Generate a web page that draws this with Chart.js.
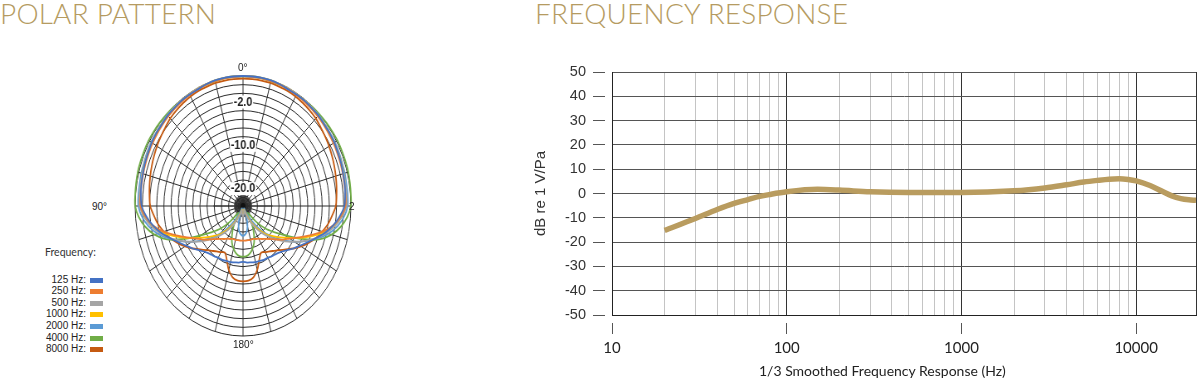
<!DOCTYPE html>
<html><head><meta charset="utf-8">
<script src="https://cdn.jsdelivr.net/npm/chart.js@4.4.0/dist/chart.umd.min.js"></script>
<style>
html,body{margin:0;padding:0;overflow:hidden;background:#fff;width:1200px;height:382px;position:relative;}
.title{position:absolute;font-family:Lato,"Open Sans",sans-serif;font-weight:300;font-size:28px;line-height:1.2;color:#b59b61;white-space:nowrap;letter-spacing:0.2px;}
.plab{position:absolute;font-family:"Liberation Sans",Arial,sans-serif;font-size:10px;color:#222;white-space:nowrap;line-height:12px;}
.lrow{position:absolute;white-space:nowrap;line-height:12px;font-family:"Liberation Sans",Arial,sans-serif;font-size:10px;color:#222;}
.sw{position:absolute;width:13px;height:5px;}
#xtitle{position:absolute;left:759px;top:362px;font-family:Lato,sans-serif;font-size:14px;color:#222;white-space:nowrap;line-height:17px;}
</style></head><body>
<div class="title" style="left:0px;top:-3.5px">POLAR PATTERN</div>
<div class="title" style="left:535px;top:-3.5px">FREQUENCY RESPONSE</div>

<div id="polarWrap" style="position:absolute;left:107px;top:70px;width:273px;height:273px;transform:scaleX(0.83);transform-origin:136px 136px;">
  <canvas id="polar" width="273" height="273"></canvas>
</div>
<div class="plab" style="left:238px;top:62px">0°</div>
<div class="plab" style="left:233px;top:339px">180°</div>
<div class="plab" style="left:92px;top:201px">90°</div>
<div class="plab" style="left:349px;top:201px">2</div>
<div id="legend"></div>

<canvas id="freq" width="720" height="342" style="position:absolute;left:520px;top:40px;"></canvas>
<div id="xtitle">1/3 Smoothed Frequency Response (Hz)</div>

<script>
// ---------- POLAR DATA ----------
const polarAngles = [0,5,10,15,20,25,30,35,40,45,50,55,60,65,70,75,80,85,90,95,100,105,110,115,120,125,130,135,140,145,150,155,160,165,170,175,180,185,190,195,200,205,210,215,220,225,230,235,240,245,250,255,260,265,270,275,280,285,290,295,300,305,310,315,320,325,330,335,340,345,350,355];
const hz125 = [30,30,30,30,29.9,29.7,29.7,29.7,29.6,29.6,29.4,29.4,29.3,29.1,29,28.8,28.7,28.5,28.2,27,25.5,23.7,21.6,19.8,18.3,17.1,15.9,15,14.4,14.1,13.8,13.7,13.5,13.4,13.2,13.1,12.9,13.1,13.2,13.4,13.5,13.7,13.8,14.1,14.4,15,15.9,17.1,18.3,19.8,21.6,23.7,25.5,27,28.2,28.5,28.7,28.8,29,29.1,29.3,29.4,29.4,29.6,29.6,29.7,29.7,29.7,29.9,30,30,30];
const hz250 = [29.9,29.9,29.9,29.8,29.8,29.7,29.6,29.5,29.4,29.3,29.2,29.1,29,28.9,28.8,28.7,28.6,28.6,28.5,27.3,25.5,22.8,19.8,17.1,15,13.5,12,10.8,9.9,9.3,8.7,8.4,8.1,8.1,8,8,8,8,8,8.1,8.1,8.4,8.7,9.3,9.9,10.8,12,13.5,15,17.1,19.8,22.8,25.5,27.3,28.5,28.6,28.6,28.7,28.8,28.9,29,29.1,29.2,29.3,29.4,29.5,29.6,29.7,29.8,29.8,29.9,29.9];
const hz500 = [30,30,30,30,29.9,29.9,29.8,29.8,29.7,29.6,29.5,29.4,29.3,29.2,29.1,29,28.9,28.9,28.8,27.6,26.1,24,21.6,19,16.5,14.2,12,10,8.1,6.3,4.5,2.8,1.5,0.9,1.5,2.1,2.4,2.1,1.5,0.9,1.5,2.8,4.5,6.3,8.1,10,12,14.2,16.5,19,21.6,24,26.1,27.6,28.8,28.9,28.9,29,29.1,29.2,29.3,29.4,29.5,29.6,29.7,29.8,29.8,29.9,29.9,30,30,30];
const hz1000 = [30,30,30,30,29.9,29.9,29.8,29.8,29.7,29.6,29.5,29.4,29.3,29.2,29.1,29,28.8,28.7,28.5,27.6,25.8,23.4,20.4,17.4,14.7,12.6,10.8,9.3,7.5,5.7,3.9,2.1,0.9,0.9,1.5,1.8,1.8,1.8,1.5,0.9,0.9,2.1,3.9,5.7,7.5,9.3,10.8,12.6,14.7,17.4,20.4,23.4,25.8,27.6,28.5,28.7,28.8,29,29.1,29.2,29.3,29.4,29.5,29.6,29.7,29.8,29.8,29.9,29.9,30,30,30];
const hz2000 = [30,30,30,30,29.9,29.9,29.8,29.8,29.7,29.7,29.6,29.5,29.5,29.4,29.3,29.3,29.2,29.2,29.1,28.2,26.7,24.6,21.9,19.2,16.5,13.8,11.4,9,6.6,4.2,2.1,0.6,3,4.8,6,6.6,6.9,6.6,6,4.8,3,0.6,2.1,4.2,6.6,9,11.4,13.8,16.5,19.2,21.9,24.6,26.7,28.2,29.1,29.2,29.2,29.3,29.3,29.4,29.5,29.5,29.6,29.7,29.7,29.8,29.8,29.9,29.9,30,30,30];
const hz4000 = [29.9,29.9,29.9,29.8,29.8,29.8,29.8,29.8,29.9,30,30.1,30.2,30.3,30.3,30.3,30.3,30.2,30.1,30,29.1,27.6,25.5,22.5,18,13.5,10.5,8.1,5.1,2.1,2.1,5.1,7.2,9,10.2,11.1,11.6,11.7,11.6,11.1,10.2,9,7.2,5.1,2.1,2.1,5.1,8.1,10.5,13.5,18,22.5,25.5,27.6,29.1,30,30.1,30.2,30.3,30.3,30.3,30.3,30.2,30.1,30,29.9,29.8,29.8,29.8,29.8,29.8,29.9,29.9];
const hz8000 = [29.4,29.4,29.4,29.4,29.3,29.3,29.2,29,28.8,28.6,28.2,27.9,27.6,27.3,27,26.7,26.4,26.1,25.8,24.9,24,22.8,21.6,20.1,18.6,17.1,15.6,14.4,13.5,12.8,12.3,11.9,13.2,15.3,16.7,17.3,17.4,17.3,16.7,15.3,13.2,11.9,12.3,12.8,13.5,14.4,15.6,17.1,18.6,20.1,21.6,22.8,24,24.9,25.8,26.1,26.4,26.7,27,27.3,27.6,27.9,28.2,28.6,28.8,29,29.2,29.3,29.3,29.4,29.4,29.4];
const seriesNames = ['125 Hz:','250 Hz:','500 Hz:','1000 Hz:','2000 Hz:','4000 Hz:','8000 Hz:'];
const seriesColors = ['#4472c4','#ed7d31','#a5a5a5','#ffc000','#5b9bd5','#70ad47','#c55a11'];
const seriesData = [hz125, hz250, hz500, hz1000, hz2000, hz4000, hz8000];
const ringValues = [0,2,4,6,8,10,12,14,16,18,20,22,24,26,28,30];
const ringLabels = {24:'-2.0', 14:'-10.0', 4:'-20.0'};

// ---------- FREQUENCY RESPONSE DATA ----------
const freqHz = [20,30,40,50,60,70,80,100,150,200,300,500,1000,2000,3000,4000,5000,6000,7000,8000,9000,10000,12000,14000,16000,18000,20000,22000];
const respDb = [-15.2,-10.3,-6.6,-4.1,-2.5,-1.2,-0.4,0.7,1.7,1.4,0.7,0.4,0.4,1.1,2.3,3.6,4.7,5.4,5.9,6.1,5.8,5.2,3.3,1.0,-1.0,-2.1,-2.6,-2.8];
const xGridHz = [10,20,30,40,50,60,70,80,90,100,200,300,400,500,600,700,800,900,1000,2000,3000,4000,5000,6000,7000,8000,9000,10000,22000];
const xLabelHz = [10,100,1000,10000];
const yTicksDb = [-50,-40,-30,-20,-10,0,10,20,30,40,50];

// ---------- LEGEND ----------
const legend = document.getElementById('legend');
const head = document.createElement('div');
head.className = 'lrow';
head.style.cssText = 'left:45px;top:246px;font-family:Lato,sans-serif;font-size:10.5px;color:#333;';
head.textContent = 'Frequency:';
legend.appendChild(head);
seriesNames.forEach((n, i) => {
  const t = document.createElement('div');
  t.className = 'lrow';
  t.style.left = '0px';
  t.style.width = '86px';
  t.style.top = (273.5 + i * 11.6) + 'px';
  t.style.textAlign = 'right';
  t.textContent = n;
  legend.appendChild(t);
  const s = document.createElement('div');
  s.className = 'sw';
  s.style.left = '89.5px';
  s.style.top = (277.5 + i * 11.6) + 'px';
  s.style.background = seriesColors[i];
  legend.appendChild(s);
});

// ---------- POLAR CHART ----------
const polarExtras = {
  id: 'polarExtras',
  beforeDatasetsDraw(chart) {
    const s = chart.scales.r, ctx = chart.ctx;
    ctx.save();
    ctx.strokeStyle = '#2a2a2a';
    ctx.lineWidth = 1;
    for (let i = 0; i < polarAngles.length; i++) {
      if (i % 3 === 0) continue;
      const p = s.getPointPosition(i, 11);
      ctx.beginPath(); ctx.moveTo(s.xCenter, s.yCenter); ctx.lineTo(p.x, p.y); ctx.stroke();
    }
    [18, 54].forEach(i => {
      const p = s.getPointPosition(i, 35.5);
      ctx.beginPath(); ctx.moveTo(s.xCenter, s.yCenter); ctx.lineTo(p.x, p.y); ctx.stroke();
    });
    ctx.fillStyle = '#111';
    ctx.beginPath(); ctx.arc(s.xCenter, s.yCenter, 3, 0, Math.PI * 2); ctx.fill();
    ctx.restore();
  }
};

new Chart(document.getElementById('polar'), {
  type: 'radar',
  data: {
    labels: polarAngles,
    datasets: seriesData.map((d, i) => ({
      label: seriesNames[i],
      data: d,
      borderColor: seriesColors[i],
      borderWidth: 1.8,
      pointRadius: 0,
      fill: false,
      tension: 0.3
    }))
  },
  options: {
    responsive: false,
    animation: false,
    plugins: { legend: { display: false }, tooltip: { enabled: false } },
    layout: { padding: 0 },
    scales: {
      r: {
        min: 0, max: 30,
        afterBuildTicks: s => { s.ticks = ringValues.map(v => ({ value: v })); },
        ticks: {
          stepSize: 2,
          autoSkip: false,
          maxTicksLimit: 40,
          callback: v => ringLabels[v] || '',
          font: { family: 'Liberation Sans', size: 13, weight: 'bold' },
          color: '#222',
          showLabelBackdrop: ctx => !!ringLabels[ctx.tick.value],
          backdropColor: '#fff',
          backdropPadding: { x: 1, y: 0 }
        },
        grid: { circular: true, color: '#2a2a2a', lineWidth: 1 },
        angleLines: {
          color: ctx => (ctx.index % 3 === 0 ? '#2a2a2a' : 'rgba(0,0,0,0)'),
          lineWidth: ctx => (ctx.index % 3 === 0 ? 1 : 0)
        },
        pointLabels: { display: false }
      }
    }
  },
  plugins: [polarExtras]
});

// ---------- FREQUENCY CHART ----------
const isDecade = v => xLabelHz.includes(v);
new Chart(document.getElementById('freq'), {
  type: 'line',
  data: {
    datasets: [{
      data: freqHz.map((f, i) => ({ x: f, y: respDb[i] })),
      borderColor: '#b99c5f',
      borderWidth: 5.5,
      pointRadius: 0,
      cubicInterpolationMode: 'monotone',
      fill: false
    }]
  },
  options: {
    responsive: false,
    animation: false,
    layout: { padding: { top: 32, right: 44, bottom: 19, left: 0 } },
    plugins: {
      legend: { display: false },
      tooltip: { enabled: false }
    },
    scales: {
      x: {
        type: 'logarithmic',
        min: 10, max: 22000,
        afterBuildTicks: s => { s.ticks = xGridHz.map(v => ({ value: v })); },
        afterFit: s => { s.height = 48; },
        ticks: {
          autoSkip: false, maxRotation: 0,
          callback: v => (isDecade(v) ? String(v) : ''),
          font: { family: 'Lato', size: 15 },
          color: '#222',
          padding: 5
        },
        grid: {
          color: ctx => (ctx.tick && (isDecade(ctx.tick.value) || ctx.tick.value === 22000) ? '#333' : '#c4c4c4'),
          lineWidth: 1,
          tickLength: 19,
          tickColor: ctx => (ctx.tick && isDecade(ctx.tick.value) ? '#555' : 'rgba(0,0,0,0)'),
          tickBorderDash: [12, 7],
          tickBorderDashOffset: 12
        },
        border: { color: '#222' }
      },
      y: {
        min: -50, max: 50,
        afterBuildTicks: s => { s.ticks = yTicksDb.map(v => ({ value: v })); },
        afterFit: s => { s.width = 92; },
        title: {
          display: true,
          text: 'dB re 1 V/Pa',
          color: '#333',
          font: { family: 'Liberation Sans', size: 15 },
          padding: { top: 12, bottom: 0 }
        },
        ticks: {
          font: { family: 'Liberation Sans', size: 14.5 },
          color: '#333',
          padding: 7
        },
        grid: {
          color: '#555',
          lineWidth: 1,
          tickLength: 19,
          tickColor: '#555',
          tickBorderDash: [12, 7],
          tickBorderDashOffset: 0
        },
        border: { color: '#222' }
      }
    }
  }
});
</script>
</body></html>
